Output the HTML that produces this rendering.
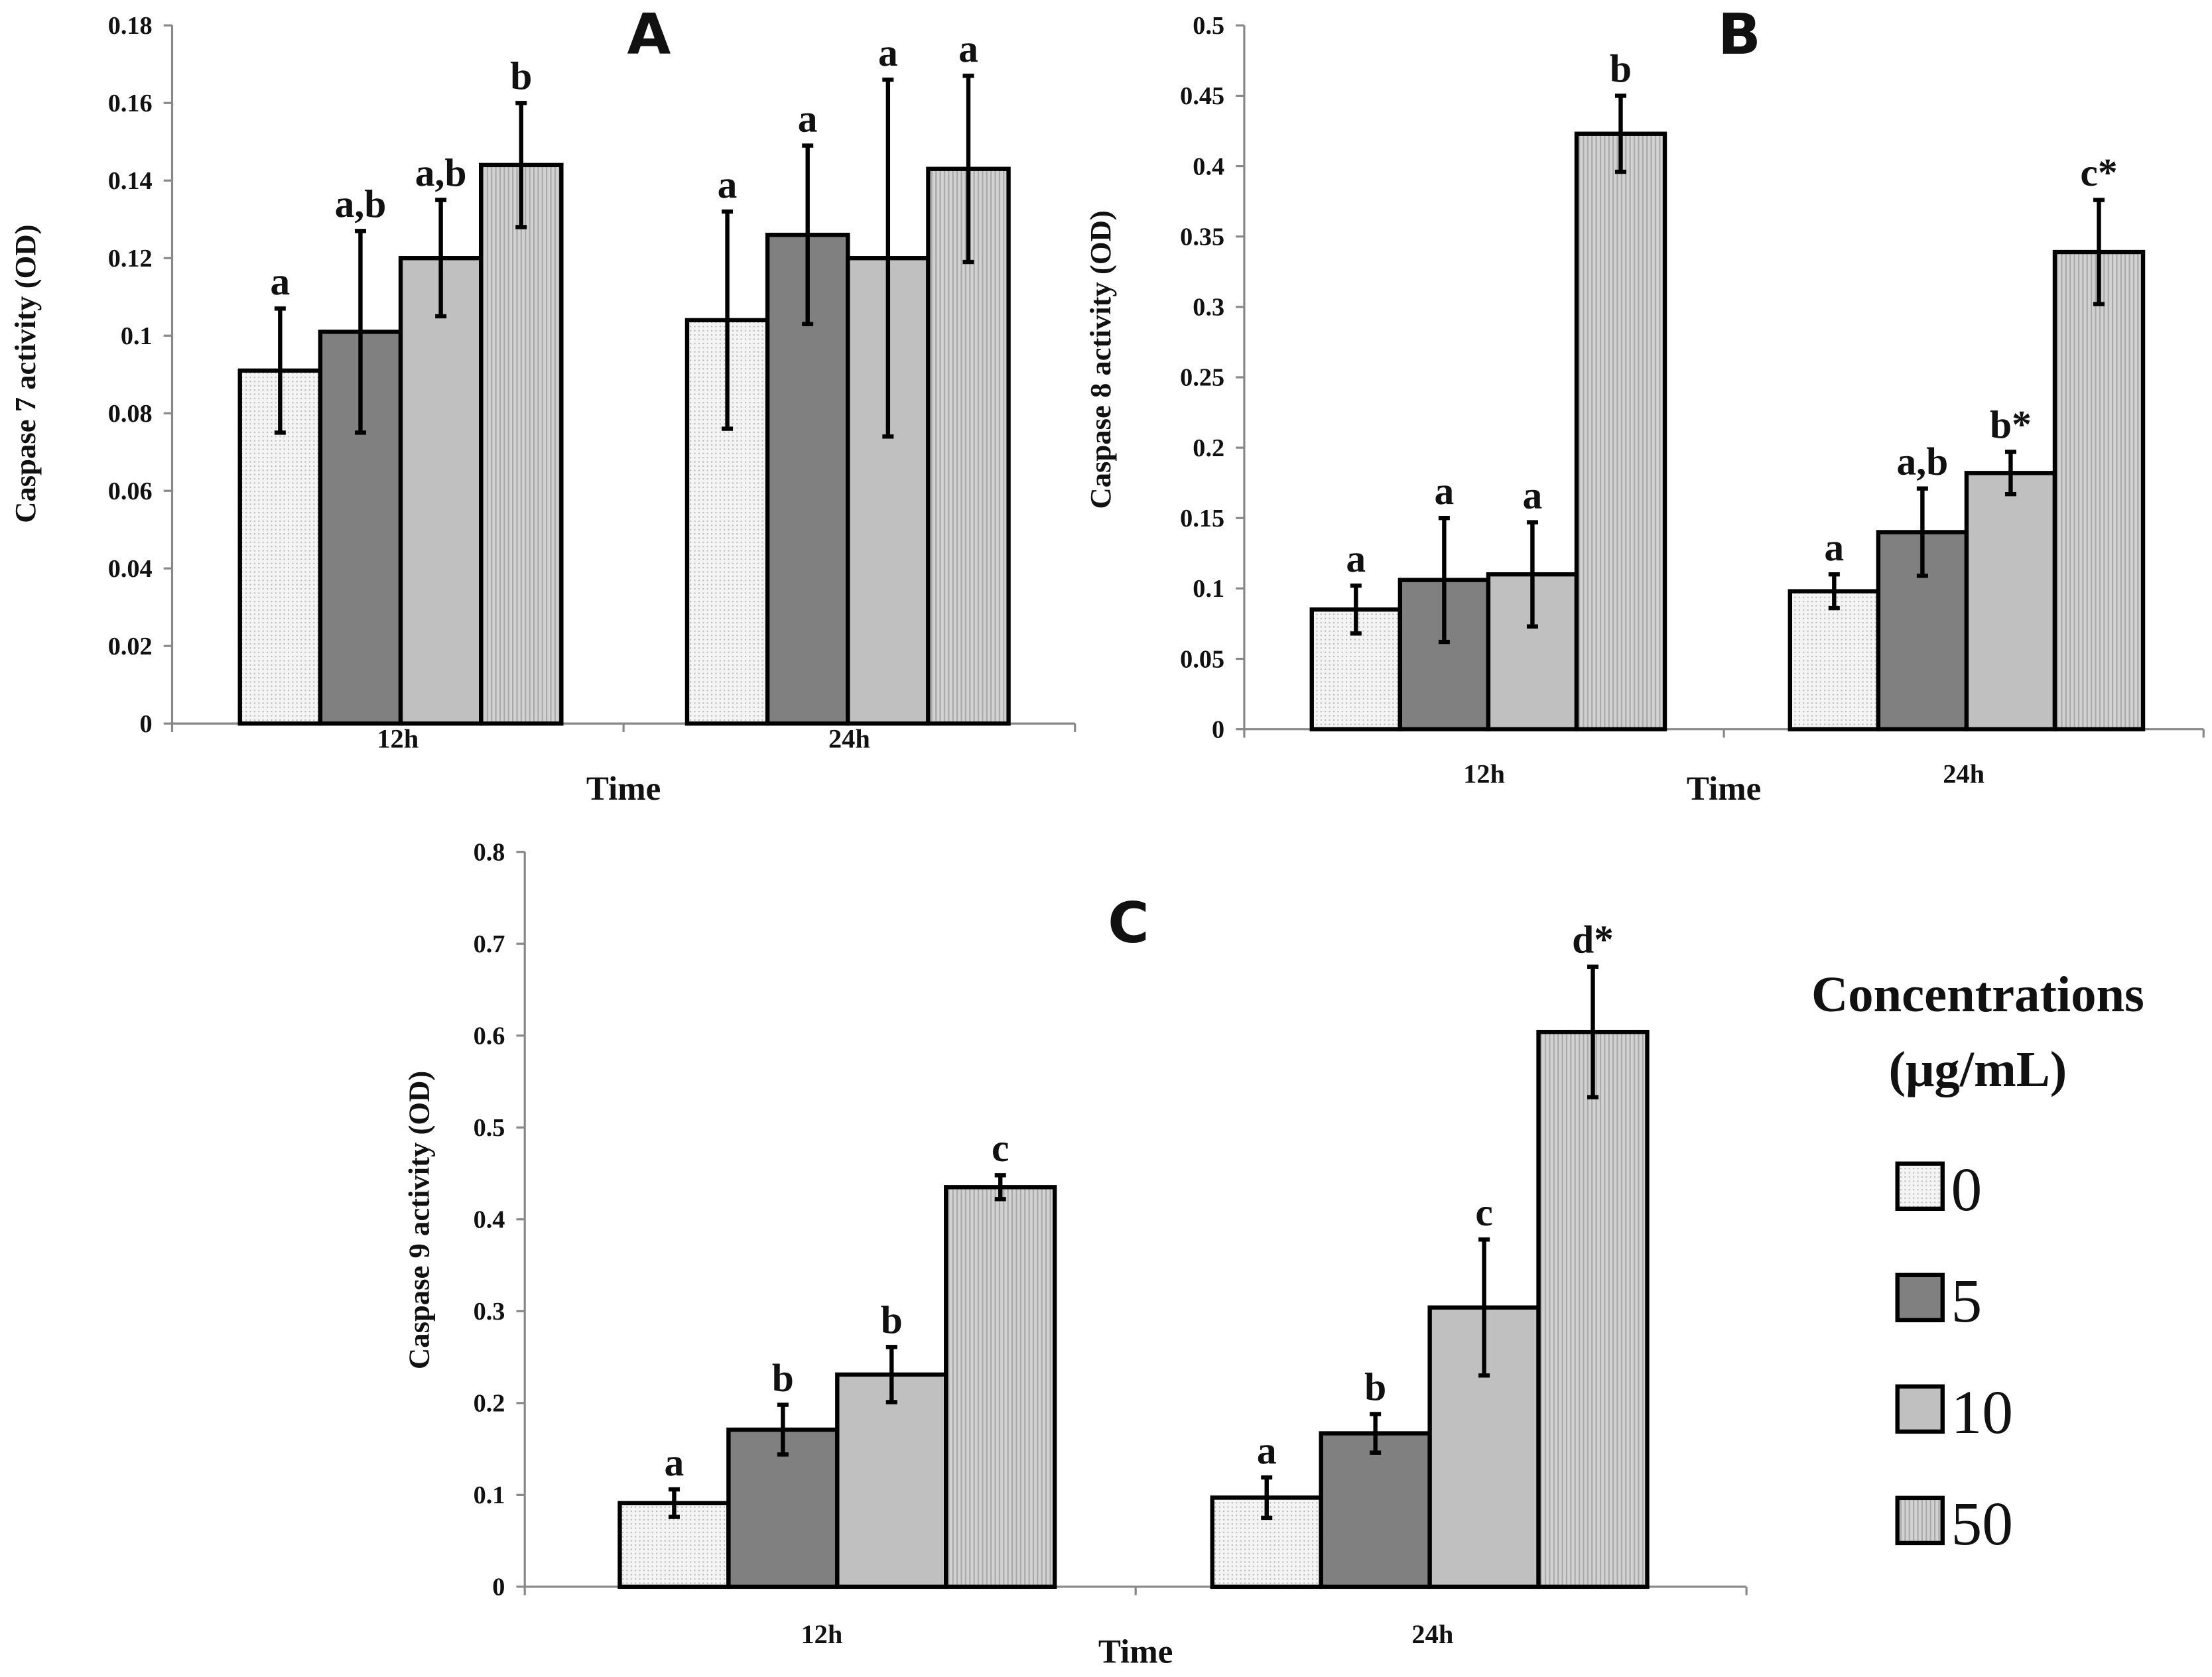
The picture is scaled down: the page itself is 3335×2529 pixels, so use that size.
<!DOCTYPE html>
<html><head><meta charset="utf-8"><style>
html,body{margin:0;padding:0;background:#fff}
svg{display:block}
text{font-family:"Liberation Serif",serif;font-weight:bold;fill:#111}
</style></head><body>
<svg id="fig" xmlns="http://www.w3.org/2000/svg" width="3335" height="2529" viewBox="0 0 1568 1189" preserveAspectRatio="none">
<defs>
<pattern id="p0" width="3" height="3" patternUnits="userSpaceOnUse"><rect width="3" height="3" fill="#f4f4f4"/><rect width="1" height="1" fill="#bbb"/></pattern>
<pattern id="p50" width="3" height="3" patternUnits="userSpaceOnUse"><rect width="3" height="3" fill="#d2d2d2"/><rect width="1" height="3" fill="#a8a8a8"/></pattern>
</defs>
<g id="legend">
<text x="1402" y="717" font-size="36" text-anchor="middle">Concentrations</text>
<text x="1402" y="770" font-size="36" text-anchor="middle">(μg/mL)</text>
</g>
</svg>
<script>
const groups = ["12h", "24h"];
const concLabels = ["0", "5", "10", "50"];
const fills = ["url(#p0)", "#808080", "#c0c0c0", "url(#p50)"];
const aVals = [[0.091,0.101,0.120,0.144],[0.104,0.126,0.120,0.143]];
const aErr = [[0.016,0.026,0.015,0.016],[0.028,0.023,0.046,0.024]];
const aLet = [["a","a,b","a,b","b"],["a","a","a","a"]];
const aTicks = [0,0.02,0.04,0.06,0.08,0.1,0.12,0.14,0.16,0.18];
const bVals = [[0.085,0.106,0.110,0.423],[0.098,0.140,0.182,0.339]];
const bErr = [[0.017,0.044,0.037,0.027],[0.012,0.031,0.015,0.037]];
const bLet = [["a","a","a","b"],["a","a,b","b*","c*"]];
const bTicks = [0,0.05,0.1,0.15,0.2,0.25,0.3,0.35,0.4,0.45,0.5];
const cVals = [[0.091,0.171,0.231,0.435],[0.097,0.167,0.304,0.604]];
const cErr = [[0.015,0.027,0.030,0.013],[0.022,0.021,0.074,0.071]];
const cLet = [["a","b","b","c"],["a","b","c","d*"]];
const cTicks = [0,0.1,0.2,0.3,0.4,0.5,0.6,0.7,0.8];

const NS="http://www.w3.org/2000/svg";
const svg=document.getElementById('fig');
function mk(tag,attrs,parent,txt){const e=document.createElementNS(NS,tag);for(const k in attrs)e.setAttribute(k,attrs[k]);if(txt!==undefined)e.textContent=txt;(parent||svg).appendChild(e);return e;}

function panel(id,P,vals,errs,lets,ticks,ytitle){
  const g=mk('g',{});
  
  
  const ymax=ticks[ticks.length-1];
  const y=v=>P.y0-(v/ymax)*(P.y0-P.y1);
  const catW=(P.x1-P.x0)/groups.length;
  const bw=catW*P.bwFrac;
  const ya=mk('line',{x1:P.x0,y1:P.y1,x2:P.x0,y2:P.y0,stroke:'#888','stroke-width':1.5},g);
  
  const xa=mk('line',{x1:P.x0,y1:P.y0,x2:P.x1,y2:P.y0,stroke:'#888','stroke-width':1.5},g);
  
  for(let i=0;i<=groups.length;i++){const xx=P.x0+i*catW;mk('line',{x1:xx,y1:P.y0,x2:xx,y2:P.y0+6,stroke:'#888','stroke-width':1.5},g);}
  ticks.forEach(t=>{
    mk('line',{x1:P.x0-6,y1:y(t),x2:P.x0,y2:y(t),stroke:'#888','stroke-width':1.5},g);
    const tl=mk('text',{x:P.x0-14,y:y(t)+6,'font-size':18,'text-anchor':'end'},g,String(t));
    
  });
  groups.forEach((gn,gi)=>{
    const cx=P.x0+catW*(gi+0.5);
    const start=cx-bw*2+P.shift[gi];
    vals[gi].forEach((v,bi)=>{
      const bx=start+bi*bw;
      const r=mk('rect',{x:bx,y:y(v),width:bw,height:P.y0-y(v),fill:fills[bi],stroke:'#000','stroke-width':3},g);
      
      const mx=bx+bw/2,hi=y(v+errs[gi][bi]),lo=y(v-errs[gi][bi]);
      const eb=mk('path',{d:`M${mx},${hi}V${lo}M${mx-4},${hi}H${mx+4}M${mx-4},${lo}H${mx+4}`,stroke:'#000','stroke-width':3,fill:'none'},g);
      
      const lt=mk('text',{x:mx,y:hi-10,'font-size':28,'text-anchor':'middle'},g,lets[gi][bi]);
      
    });
    const xl=mk('text',{x:cx-P.lblOff,y:P.y0+P.lblDy,'font-size':19,'text-anchor':'middle'},g,gn);
    
  });
  const tt=mk('text',{x:P.x0+catW,y:P.y0+P.timeDy,'font-size':24,'text-anchor':'middle'},g,'Time');
  
  const yt=mk('text',{x:P.ytx,y:P.yty,'font-size':21,'text-anchor':'middle',transform:`rotate(-90 ${P.ytx} ${P.yty})`},g,ytitle);
  
  const pl=mk('text',{x:P.lx,y:P.ly,'font-size':40,'text-anchor':'middle',style:'font-family:"DejaVu Sans",sans-serif;font-weight:bold'},g,id);
  
}
panel('A',{x0:122,x1:762,y0:513,y1:18,bwFrac:0.178,shift:[2,-1],lblOff:0,lblDy:17,timeDy:54,ytx:25,yty:265,lx:460,ly:38},aVals,aErr,aLet,aTicks,'Caspase 7 activity (OD)');
panel('B',{x0:882,x1:1562,y0:517,y1:18,bwFrac:0.184,shift:[3,2],lblOff:0,lblDy:38,timeDy:50,ytx:787,yty:255,lx:1233,ly:38},bVals,bErr,bLet,bTicks,'Caspase 8 activity (OD)');
panel('C',{x0:372,x1:1238,y0:1125,y1:604,bwFrac:0.178,shift:[5,-8],lblOff:6,lblDy:40,timeDy:54,ytx:304,yty:865,lx:800,ly:668},cVals,cErr,cLet,cTicks,'Caspase 9 activity (OD)');

const lg=document.getElementById('legend');
concLabels.forEach((c,i)=>{
  const yy=825+i*79;
  const r=mk('rect',{x:1345,y:yy,width:32,height:32,fill:fills[i],stroke:'#000','stroke-width':3},lg);
  
  const t=mk('text',{x:1383,y:yy+33,'font-size':44,style:'font-weight:normal'},lg,c);
  
});
</script>
</body></html>
